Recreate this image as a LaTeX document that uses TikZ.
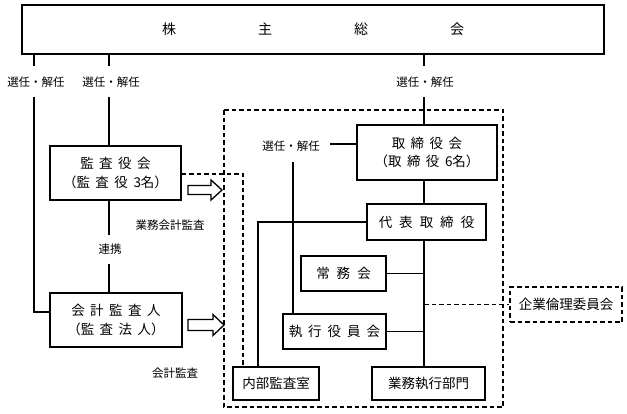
\documentclass[tikz,border=0pt]{standalone}
\usepackage{fontspec}
\setmainfont{Noto Sans CJK JP}
\tikzset{
  box/.style={draw, line width=1.3pt, inner sep=0pt, align=center, font=\fontsize{13.5}{18.5}\selectfont},
  dbox/.style={draw, line width=1.3pt, dash pattern=on 4.5pt off 3pt, inner sep=0pt, align=center, font=\fontsize{13.5}{18}\selectfont},
  lbl/.style={inner sep=0pt, font=\fontsize{11.5}{14}\selectfont},
  ln/.style={line width=1.3pt},
  dln/.style={line width=1.3pt, dash pattern=on 4.5pt off 3pt},
  harrow/.style={line width=1.3pt, fill=white, line join=miter}
}
\newcommand{\gsp}{\hspace{5.5pt}}
\begin{document}
\begin{tikzpicture}[x=1pt,y=-1pt]
\useasboundingbox (0,0) rectangle (627,413);
% boxes
\node[box, minimum width=582pt, minimum height=49pt, font=\fontsize{14}{16}\selectfont] (top) at (313,29.5)
  {株\hspace{82pt}主\hspace{82pt}総\hspace{82pt}会};
\node[box, minimum width=131pt, minimum height=54pt] (kansa) at (115.5,173)
  {監\gsp 査\gsp 役\gsp 会\\（監\gsp 査\gsp 役\gsp 3名）};
\node[box, minimum width=132pt, minimum height=54pt] (kaikei) at (116,320)
  {会\gsp 計\gsp 監\gsp 査\gsp 人\\（監\gsp 査\gsp 法\gsp 人）};
\node[box, minimum width=140pt, minimum height=55pt] (tori) at (427,152.5)
  {取\gsp 締\gsp 役\gsp 会\\（取\gsp 締\gsp 役\gsp 6名）};
\node[box, minimum width=119pt, minimum height=36pt] (daihyo) at (426.5,222)
  {代\hspace{7pt}表\hspace{7pt}取\hspace{7pt}締\hspace{7pt}役};
\node[box, minimum width=85pt, minimum height=35pt] (jomu) at (343.5,273.5)
  {常\hspace{7pt}務\hspace{7pt}会};
\node[box, minimum width=103pt, minimum height=35pt] (shikko) at (334.5,331.5)
  {執\hspace{6pt}行\hspace{6pt}役\hspace{6pt}員\hspace{6pt}会};
\node[box, minimum width=86pt, minimum height=33pt] (naibu) at (276,383.5) {内部監査室};
\node[box, minimum width=113pt, minimum height=33pt] (gyomu) at (428.5,383.5) {業務執行部門};
\node[dbox, minimum width=112pt, minimum height=35pt] (rinri) at (566,304.5) {企業倫理委員会};
% big dashed frame
\draw[dln] (224,110) rectangle (503,407);
% labels
\node[lbl] (l1) at (36,82) {選任・解任};
\node[lbl] (l2) at (111,82) {選任・解任};
\node[lbl] (l3) at (425,82) {選任・解任};
\node[lbl] (l4) at (291,146) {選任・解任};
\node[lbl] (renkei) at (110,249) {連携};
\node[lbl] (gk) at (170,225) {業務会計監査};
\node[lbl] (kk) at (175,373) {会計監査};
% coordinates
\coordinate (a1) at (34,66);
\coordinate (a2) at (34,97);
\coordinate (b1) at (109,66);
\coordinate (b2) at (109,97);
\coordinate (c1) at (424,66);
\coordinate (c2) at (424,97);
% connectors
\draw[ln] (top.south -| a1) -- (a1);
\draw[ln] (a2) -- (34,312) -- (kaikei.west |- 0,312);
\draw[ln] (top.south -| b1) -- (b1);
\draw[ln] (b2) -- (kansa.north -| b2);
\draw[ln] (kansa.south -| b2) -- (109,235);
\draw[ln] (109,264) -- (kaikei.north -| b2);
\draw[ln] (top.south -| c1) -- (c1);
\draw[ln] (c2) -- (tori.north -| c2);
\draw[ln] (tori.south -| c2) -- (daihyo.north -| c2);
\draw[ln] (daihyo.south -| c2) -- (gyomu.north -| c2);
\draw[ln] (jomu.east) -- (jomu.east -| c2);
\draw[ln] (shikko.east) -- (shikko.east -| c2);
\draw[dln] (c2 |- rinri.west) -- (rinri.west);
\draw[ln] (330,144) -- (tori.west |- 0,144);
\draw[ln] (293,162) -- (shikko.north -| 293,0);
\draw[ln] (daihyo.west) -- (258,222) -- (naibu.north -| 258,0);
\draw[dln] (kansa.east |- 0,174) -- (243,174) -- (naibu.north -| 243,0);
% hollow arrows
\draw[harrow] (188,185.5) -- (211,185.5) -- (211,180) -- (222,190) -- (211,200) -- (211,194.5) -- (188,194.5) -- cycle;
\draw[harrow] (188,319.5) -- (213,319.5) -- (213,314.5) -- (224,325) -- (213,335.5) -- (213,330.5) -- (188,330.5) -- cycle;
\end{tikzpicture}
\end{document}
